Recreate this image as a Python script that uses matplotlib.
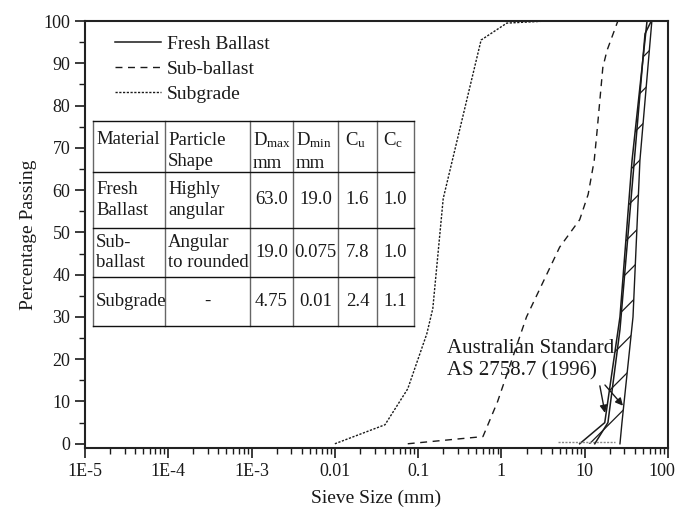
import numpy as np
import matplotlib.pyplot as plt
import matplotlib.transforms as mtransforms
from matplotlib.lines import Line2D
from matplotlib.ticker import FixedLocator, FixedFormatter, LogLocator, MultipleLocator, NullFormatter

plt.rcParams['font.family'] = ['Liberation Serif', 'DejaVu Serif']
plt.rcParams['mathtext.fontset'] = 'custom'
plt.rcParams['mathtext.rm'] = 'Liberation Serif'
plt.rcParams['mathtext.it'] = 'Liberation Serif:italic'
plt.rcParams['hatch.linewidth'] = 0.9
plt.rcParams['hatch.color'] = '#111111'

INK = '#1a1a1a'

# --- grading curves (sieve size in mm, % passing) ---
ballast_sieve = [13.2, 19.0, 26.5, 37.5, 53.0, 63.0]
ballast_pass = [0, 5, 27, 62, 97, 100]

subballast_sieve = [0.075, 0.6, 0.9, 2.0, 5.0, 8.7, 11.0, 13.0, 14.0, 16.5, 18.5, 25.0]
subballast_pass = [0, 1.7, 10, 30, 46.5, 53, 59, 67, 73.5, 89, 93, 100]

subgrade_sieve = [0.01, 0.04, 0.075, 0.127, 0.15, 0.2, 0.57, 1.16, 3.5]
subgrade_pass = [0, 4.5, 13, 26, 32, 58, 95.5, 99.5, 100]

# AS 2758.7 (1996) grading envelope
band_pass = [0, 5, 30, 67, 100]
band_fine = [8.7, 17.4, 26.5, 37.0, 56.0]
band_coarse = [26.5, 28.0, 38.0, 46.0, 64.0]
fines_sieve = [4.75, 23.0]
fines_pass = [0.4, 0.4]

xtick_vals = [1e-5, 1e-4, 1e-3, 1e-2, 1e-1, 1, 10, 100]
xtick_labels = ['1E-5', '1E-4', '1E-3', '0.01', '0.1', '1', '10', '100']

# --- material properties table ---
col_heads = ['Material', 'Particle\nShape', ['D$_{\\rm max}$', 'mm'], ['D$_{\\rm min}$', 'mm'],
             'C$_{\\rm u}$', 'C$_{\\rm c}$']
materials = ['Fresh\nBallast', 'Sub-\nballast', 'Subgrade']
shapes = ['Highly\nangular', 'Angular\nto rounded', '-']
d_max = ['63.0', '19.0', '4.75']
d_min = ['19.0', '0.075', '0.01']
c_u = ['1.6', '7.8', '2.4']
c_c = ['1.0', '1.0', '1.1']

W, H = 678, 512
fig = plt.figure(figsize=(W / 100, H / 100), dpi=100)
ax = fig.add_axes([85 / W, 1 - 448 / H, 583 / W, 427 / H])
ax.set_xscale('log')
ax.set_xlim(1e-5, 100)
ax.set_ylim(-1, 100)

ax.fill_betweenx(band_pass, band_fine, band_coarse, facecolor='none',
                 edgecolor=INK, hatch='/', linewidth=0)
ax.plot(band_fine, band_pass, color=INK, lw=1.1)
ax.plot(band_coarse, band_pass, color=INK, lw=1.0)
ax.plot(fines_sieve, fines_pass, color='#888888', lw=1.0, ls=(0, (1.5, 1)))

ax.plot(ballast_sieve, ballast_pass, color=INK, lw=1.1, label='Fresh Ballast')
ax.plot(subballast_sieve, subballast_pass, color=INK, lw=1.0, ls=(0, (5, 4)), label='Sub-ballast')
ax.plot(subgrade_sieve, subgrade_pass, color=INK, lw=1.0, ls=(0, (1.6, 1.1)), label='Subgrade')

ax.text(0.222, 19.9, 'Australian Standard\nAS 2758.7 (1996)', fontsize=15, color=INK,
        ha='left', va='center', linespacing=1.2)
arrow_kw = dict(arrowstyle='-|>', color=INK, lw=1.0, mutation_scale=11, shrinkA=0, shrinkB=0)
ax.annotate('', xy=(17.5, 7.3), xytext=(15.2, 13.7), arrowprops=arrow_kw)
ax.annotate('', xy=(28.8, 9.0), xytext=(17.5, 13.9), arrowprops=arrow_kw)

leg = ax.legend(loc='upper left', bbox_to_anchor=(0.051, 0.966), frameon=False, fontsize=14,
                handlelength=2.4, handletextpad=0.3, labelspacing=0.38, borderpad=0, borderaxespad=0)
for t in leg.get_texts():
    t.set_color(INK)

# axes styling
ax.xaxis.set_major_locator(FixedLocator(xtick_vals))
ax.xaxis.set_major_formatter(FixedFormatter(xtick_labels))
ax.xaxis.set_minor_locator(LogLocator(base=10, subs=np.arange(2, 10), numticks=20))
ax.xaxis.set_minor_formatter(NullFormatter())
ax.yaxis.set_major_locator(MultipleLocator(10))
ax.yaxis.set_minor_locator(MultipleLocator(5))
ax.tick_params(which='major', direction='out', length=7, width=1.2, labelsize=13,
               colors=INK, top=False, right=False)
ax.tick_params(which='minor', direction='out', length=4, width=1.0, colors=INK,
               top=False, right=False)
for s in ax.spines.values():
    s.set_linewidth(1.5)
    s.set_color('#222222')

# keep the last x label inside the canvas
last = ax.get_xticklabels()[-1]
last.set_transform(last.get_transform() + mtransforms.ScaledTranslation(-6 / 100, 0, fig.dpi_scale_trans))

ax.set_xlabel('Sieve Size (mm)', fontsize=14, color=INK)
ax.set_ylabel('Percentage Passing', fontsize=14, color=INK)
ax.xaxis.set_label_coords(0.5, -0.097)
ax.yaxis.set_label_coords(-0.082, 0.5)

# table drawn in figure pixel coordinates (origin top-left)
col_x = [93, 165, 250, 293, 338, 377, 414]
row_y = [121, 172, 228, 277, 326]


def fx(x):
    return x / W


def fy(y):
    return 1 - y / H


for x in col_x:
    fig.add_artist(Line2D([fx(x), fx(x)], [fy(row_y[0]), fy(row_y[-1])], color='#666666', lw=1.0))
for y in row_y:
    fig.add_artist(Line2D([fx(col_x[0]), fx(col_x[-1])], [fy(y), fy(y)], color='#111111', lw=1.0))

tkw = dict(fontsize=13.5, color=INK, linespacing=1.25)
# header row
fig.text(fx(96), fy(140), col_heads[0], ha='left', va='center', **tkw)
fig.text(fx(168), fy(151), col_heads[1], ha='left', va='center', **tkw)
for ci, head in ((2, col_heads[2]), (3, col_heads[3])):
    fig.text(fx(col_x[ci] + 3), fy(140), head[0], ha='left', va='center', **tkw)
    fig.text(fx(col_x[ci] + 3), fy(163), head[1], ha='left', va='center', **tkw)
for ci, head in ((4, col_heads[4]), (5, col_heads[5])):
    fig.text(fx((col_x[ci] + col_x[ci + 1]) / 2 - 2), fy(140), head, ha='center', va='center', **tkw)

# data rows
for ri in range(3):
    yc = fy((row_y[ri + 1] + row_y[ri + 2]) / 2)
    fig.text(fx(96), yc, materials[ri], ha='left', va='center', **tkw)
    if shapes[ri] == '-':
        fig.text(fx((col_x[1] + col_x[2]) / 2), yc, shapes[ri], ha='center', va='center', **tkw)
    else:
        fig.text(fx(168), yc, shapes[ri], ha='left', va='center', **tkw)
    for ci, vals in ((2, d_max), (3, d_min), (4, c_u), (5, c_c)):
        fig.text(fx((col_x[ci] + col_x[ci + 1]) / 2), yc, vals[ri], ha='center', va='center', **tkw)

fig.savefig('out.png', dpi=100)
